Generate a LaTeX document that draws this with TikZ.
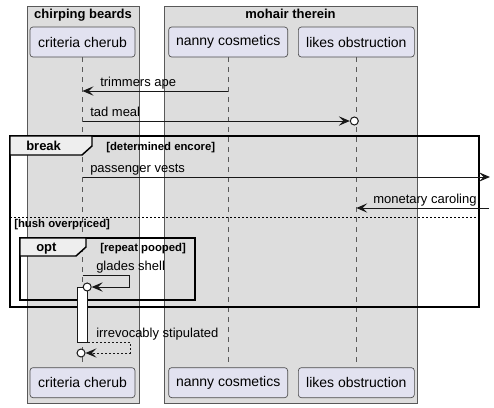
\documentclass[tikz,border=0pt]{standalone}
\usepackage{fontspec}
\setmainfont{Liberation Sans}
\usepackage{xcolor}
\usetikzlibrary{arrows.meta,positioning}
\definecolor{boxbg}{HTML}{DDDDDD}
\definecolor{partbg}{HTML}{E2E2F0}
\definecolor{ink}{HTML}{181818}
\definecolor{tabbg}{HTML}{EEEEEE}

\begin{document}
\begin{tikzpicture}[x=0.75pt,y=-0.75pt,>={Stealth[length=8.25pt,width=7pt,inset=3.5pt]},
  font=\fontsize{9.75}{11.5}\selectfont,
  grpbox/.style={draw=gray!70!black,fill=boxbg,line width=0.5pt},
  grptitle/.style={font=\fontsize{9.75}{11.5}\selectfont\bfseries,anchor=base,inner sep=0pt},
  part/.style={draw=gray!60!black,fill=partbg,rounded corners=2.25pt,minimum height=22.5pt,inner sep=0pt,
    font=\fontsize{10.5}{12}\selectfont,line width=0.5pt},
  life/.style={draw=gray!70!black,line width=0.5pt,dash pattern=on 3.75pt off 3.75pt},
  msg/.style={draw=ink,line width=0.75pt},
  lbl/.style={anchor=base west,inner sep=0pt},
  frame/.style={draw=black,line width=1.1pt},
  tab/.style={draw=black,line width=1.1pt,fill=tabbg},
  fkey/.style={font=\fontsize{9.75}{11.5}\selectfont\bfseries,anchor=base west,inner sep=0pt},
  cond/.style={font=\fontsize{8.5}{10}\selectfont\bfseries,anchor=base west,inner sep=0pt},
  tipcirc/.style={circle,draw=ink,line width=0.75pt,fill=white,minimum size=6pt,inner sep=0pt}]
  \fill[white] (0,0) rectangle (494,408);
  \useasboundingbox (0,0) rectangle (494,408);

  % boxes
  \draw[grpbox] (27,6) rectangle (139,403);
  \draw[grpbox] (164,6) rectangle (417,403);
  \node[grptitle] (t-beards) at (83,18.5) {chirping beards};
  \node[grptitle] (t-therein) at (290.5,18.5) {mohair therein};

  % participants
  \node[part,minimum width=78.75pt] (cc) at (82.5,42) {criteria cherub};
  \node[part,minimum width=89.25pt,right=24.75pt of cc] (nc) {nanny cosmetics};
  \node[part,minimum width=87pt,right=7.5pt of nc] (lo) {likes obstruction};
  \node[part,minimum width=78.75pt,below=232.5pt of cc] (ccb) {criteria cherub};
  \node[part,minimum width=89.25pt,below=232.5pt of nc] (ncb) {nanny cosmetics};
  \node[part,minimum width=87pt,below=232.5pt of lo] (lob) {likes obstruction};
  \draw[life] (cc) -- (ccb);
  \draw[life] (nc) -- (ncb);
  \draw[life] (lo) -- (lob);

  % messages
  \draw[msg,->] (nc |- 0,91) -- (cc |- 0,91);
  \node[lbl] (l-ape) at (100,86) {trimmers ape};
  \node[tipcirc,xshift=-1.5pt] (o-meal) at (lo |- 0,121) {};
  \draw[msg,->] (cc |- 0,121) -- (o-meal);
  \node[lbl] (l-meal) at (90,116.5) {tad meal};

  % break
  \draw[frame] (10,136) rectangle (479,307);
  \draw[tab] (10,136) -- (92,136) -- (92,146) -- (82,155) -- (10,155) -- cycle;
  \node[fkey] (k-break) at (26,150) {break};
  \node[cond] (c-encore) at (106,150.5) {[determined encore]};
  \coordinate (out-vests) at (490,177);
  \draw[msg,->] (cc |- out-vests) -- (out-vests);
  \node[lbl] (l-vests) at (90,172.5) {passenger vests};
  \coordinate (in-caroling) at (489,208);
  \draw[msg,->] (in-caroling) -- (lo |- in-caroling);
  \node[lbl] (l-caroling) at (373,203.5) {monetary caroling};
  \draw[black,line width=0.75pt,dash pattern=on 1.5pt off 1.5pt] (10,217) -- (479,217);
  \node[cond] (c-hush) at (14,227) {[hush overpriced]};

  % opt
  \draw[frame] (20,238) rectangle (195,300);
  \draw[tab] (20,238) -- (86,238) -- (86,247) -- (76,256) -- (20,256) -- cycle;
  \node[fkey] (k-opt) at (36,251) {opt};
  \node[cond] (c-pooped) at (100,251.5) {[repeat pooped]};
  \node[draw=ink,fill=white,line width=0.5pt,minimum width=7.5pt,minimum height=41.25pt,
    inner sep=0pt,anchor=north] (act) at (cc |- 0,287) {};
  \node[tipcirc,xshift=3.5pt] (o-glades) at (cc |- 0,287) {};
  \draw[msg,->] (cc |- 0,275) -- ++(47,0) |- (o-glades);
  \node[lbl] (l-glades) at (96,270.5) {glades shell};

  % return
  \node[tipcirc,xshift=-1.1pt] (o-irrev) at (cc |- 0,353) {};
  \draw[msg,->,dash pattern=on 1.5pt off 1.5pt] (act.south east) -- ++(42.5,0) |- (o-irrev);
  \node[lbl] (l-irrev) at (96,337.5) {irrevocably stipulated};
\end{tikzpicture}
\end{document}
